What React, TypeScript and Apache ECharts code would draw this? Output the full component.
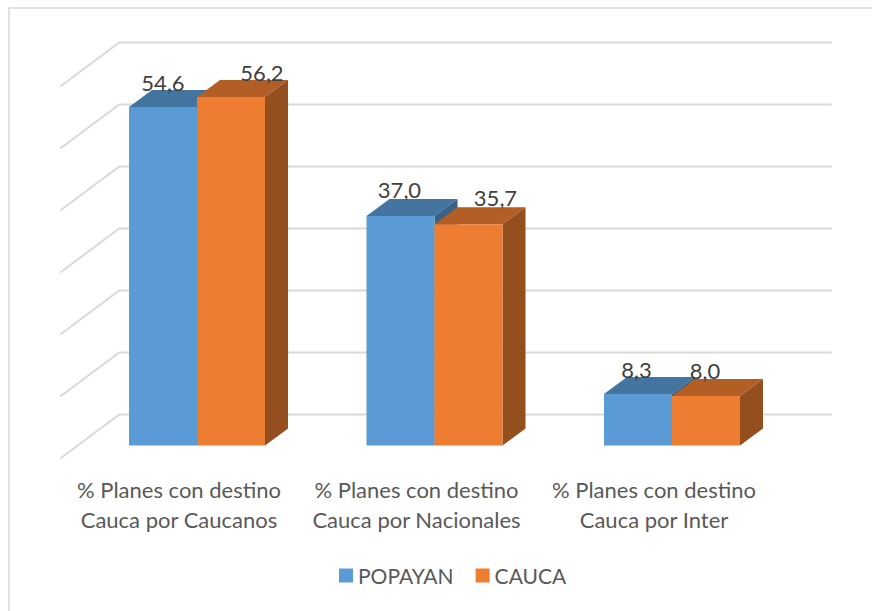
import React, { useEffect, useRef } from "react";
import * as echarts from "echarts";

const categories = ["% Planes con destino\nCauca por Caucanos", "% Planes con destino\nCauca por Nacionales", "% Planes con destino\nCauca por Inter"];
const popayan = [54.6, 37.0, 8.3];
const cauca = [56.2, 35.7, 8.0];
const popayanLabels = ["54,6", "37,0", "8,3"];
const caucaLabels = ["56,2", "35,7", "8,0"];
const gridTicks = [0, 10, 20, 30, 40, 50, 60];

const FONT = "Lato, 'Open Sans', sans-serif";
const BAR_W = 68;
const DX = 23;
const DY = 17;
const popLabelShift = [[0, -24], [-1, -27], [-1.5, -25]];
const caucaLabelShift = [[31, -25], [27, -27], [-1, -25]];

function barSeries(name: string, values: number[], labels: string[], shift: number[][], side: number, front: string, top: string, right: string) {
  return {
    type: "custom",
    name,
    itemStyle: { color: front },
    data: values.map((v, i) => [i, v]),
    z: 3,
    renderItem: (params: any, api: any) => {
      const i = api.value(0);
      const [cx, y1] = api.coord([i, api.value(1)]);
      const [, y0] = api.coord([i, 0]);
      const xl = side < 0 ? cx - BAR_W : cx;
      const xr = xl + BAR_W;
      const s = shift[params.dataIndex];
      return {
        type: "group",
        children: [
          { type: "polygon", shape: { points: [[xl, y1], [xl + DX, y1 - DY], [xr + DX, y1 - DY], [xr, y1]] }, style: { fill: top } },
          { type: "polygon", shape: { points: [[xr, y1], [xr + DX, y1 - DY], [xr + DX, y0 - DY], [xr, y0]] }, style: { fill: right } },
          { type: "rect", shape: { x: xl, y: y1, width: BAR_W, height: y0 - y1 }, style: { fill: front } },
          {
            type: "text",
            z2: 10,
            style: {
              text: labels[params.dataIndex],
              x: (xl + xr) / 2 + s[0],
              y: y1 + s[1],
              align: "center",
              verticalAlign: "middle",
              font: `22px ${FONT}`,
              fill: "#404040",
            },
          },
        ],
      };
    },
  };
}

export default function App() {
  const ref = useRef<HTMLDivElement>(null);
  useEffect(() => {
    const chart = echarts.init(ref.current!, undefined, { renderer: "svg" });
    chart.setOption({
      animation: false,
      backgroundColor: "#fff",
      graphic: [{ type: "polyline", z: 0, shape: { points: [[9, 611], [9, 8], [872, 8]] }, style: { fill: "none", stroke: "#D9D9D9", lineWidth: 1.5 } }],
      grid: { left: 78.25, top: 73.5, width: 712.5, height: 372 },
      xAxis: {
        type: "category",
        data: categories,
        axisLine: { show: false },
        axisTick: { show: false },
        axisLabel: { margin: 29, padding: [0, 36, 0, 0], color: "#595959", fontFamily: FONT, fontSize: 22, lineHeight: 30, interval: 0 },
      },
      yAxis: { type: "value", min: 0, max: 60, interval: 10, axisLabel: { show: false }, axisLine: { show: false }, axisTick: { show: false }, splitLine: { show: false } },
      legend: {
        data: ["POPAYAN", "CAUCA"],
        left: 334,
        top: 560,
        icon: "rect",
        itemWidth: 14,
        itemHeight: 14,
        itemGap: 22,
        textStyle: { color: "#595959", fontFamily: FONT, fontSize: 21 },
      },
      series: [
        {
          type: "custom",
          name: "grid",
          silent: true,
          z: 1,
          data: gridTicks.map((t) => [0, t]),
          renderItem: (params: any, api: any) => {
            const [, y] = api.coord([0, api.value(1)]);
            const x0 = params.coordSys.x;
            const x1 = x0 + params.coordSys.width;
            return {
              type: "polyline",
              shape: { points: [[x0 - 18, y + 13], [x0 + 41, y - 31], [x1 + 41, y - 31]] },
              style: { fill: "none", stroke: "#D9D9D9", lineWidth: 2 },
            };
          },
        },
        barSeries("POPAYAN", popayan, popayanLabels, popLabelShift, -1, "#5B9BD5", "#4474A0", "#396286"),
        barSeries("CAUCA", cauca, caucaLabels, caucaLabelShift, 1, "#ED7D31", "#B25E25", "#954F1F"),
      ],
    });
    return () => chart.dispose();
  }, []);
  return <div ref={ref} style={{ position: "absolute", left: 0, top: 0, width: 872, height: 611 }} />;
}
